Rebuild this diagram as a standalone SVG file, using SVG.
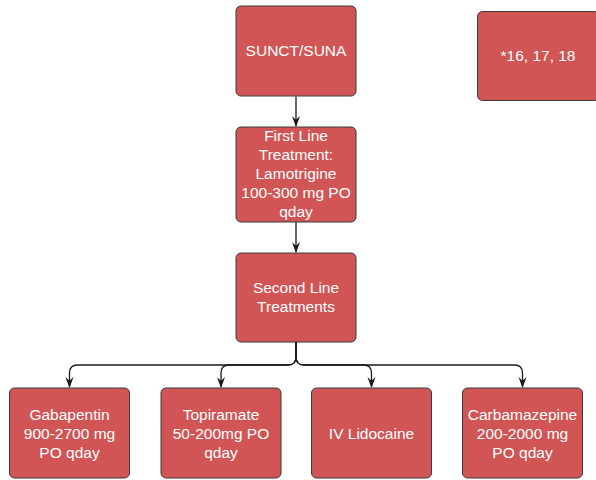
<svg xmlns="http://www.w3.org/2000/svg" width="596" height="480" viewBox="0 0 596 480">
  <defs>
    <style>
      .box { fill: #d15555; stroke: #3a3a3a; stroke-width: 1; }
      .lbl { fill: #ffffff; font-family: "Liberation Sans", Arial, sans-serif; font-size: 15.5px; text-anchor: middle; }
      .edge { fill: none; stroke: #1a1a1a; stroke-width: 1.3; }
    </style>
    <marker id="arrow" viewBox="0 0 12 10" refX="11" refY="5" markerWidth="12" markerHeight="9" markerUnits="userSpaceOnUse" orient="auto">
      <path d="M0,0.5 L12,5 L0,9.5 L4,5 Z" fill="#1a1a1a"/>
    </marker>
  </defs>

  <rect width="596" height="480" fill="#ffffff"/>

  <g id="connectors">
    <path class="edge" d="M296,96.5 V126" marker-end="url(#arrow)"/>
    <path class="edge" d="M296,221.5 V252" marker-end="url(#arrow)"/>
    <path class="edge" d="M296,342 V357 Q296,365 288,365 H77.5 Q69.5,365 69.5,373 V387" marker-end="url(#arrow)"/>
    <path class="edge" d="M296,342 V357 Q296,365 288,365 H229 Q221,365 221,373 V387" marker-end="url(#arrow)"/>
    <path class="edge" d="M296,342 V357 Q296,365 304,365 H363.5 Q371.5,365 371.5,373 V387" marker-end="url(#arrow)"/>
    <path class="edge" d="M296,342 V357 Q296,365 304,365 H514.5 Q522.5,365 522.5,373 V387" marker-end="url(#arrow)"/>
  </g>

  <g id="suncut-suna">
    <rect class="box" x="236" y="6" width="120" height="90" rx="5"/>
    <text class="lbl" x="296" y="56">SUNCT/SUNA</text>
  </g>

  <g id="refs">
    <rect class="box" x="477.5" y="11.5" width="122" height="89" rx="5"/>
    <text class="lbl" x="538" y="61">*16, 17, 18</text>
  </g>

  <g id="first-line">
    <rect class="box" x="236" y="127" width="120" height="95" rx="5"/>
    <text class="lbl" x="296" y="141">First Line</text>
    <text class="lbl" x="296" y="160">Treatment:</text>
    <text class="lbl" x="296" y="179">Lamotrigine</text>
    <text class="lbl" x="296" y="198">100-300 mg PO</text>
    <text class="lbl" x="296" y="217">qday</text>
  </g>

  <g id="second-line">
    <rect class="box" x="236" y="253" width="120" height="89" rx="5"/>
    <text class="lbl" x="296" y="293">Second Line</text>
    <text class="lbl" x="296" y="312">Treatments</text>
  </g>

  <g id="gabapentin">
    <rect class="box" x="9.5" y="388" width="120" height="90" rx="5"/>
    <text class="lbl" x="69.5" y="420">Gabapentin</text>
    <text class="lbl" x="69.5" y="439">900-2700 mg</text>
    <text class="lbl" x="69.5" y="458">PO qday</text>
  </g>

  <g id="topiramate">
    <rect class="box" x="161" y="388" width="120" height="90" rx="5"/>
    <text class="lbl" x="221" y="420">Topiramate</text>
    <text class="lbl" x="221" y="439">50-200mg PO</text>
    <text class="lbl" x="221" y="458">qday</text>
  </g>

  <g id="iv-lidocaine">
    <rect class="box" x="311.5" y="388" width="120" height="90" rx="5"/>
    <text class="lbl" x="371.5" y="439">IV Lidocaine</text>
  </g>

  <g id="carbamazepine">
    <rect class="box" x="462.5" y="388" width="120" height="90" rx="5"/>
    <text class="lbl" x="522.5" y="420">Carbamazepine</text>
    <text class="lbl" x="522.5" y="439">200-2000 mg</text>
    <text class="lbl" x="522.5" y="458">PO qday</text>
  </g>
</svg>
